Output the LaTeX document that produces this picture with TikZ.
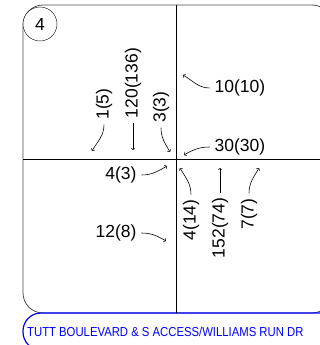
\documentclass[tikz,border=0pt]{standalone}
\usepackage{fontspec}
\setmainfont{Liberation Sans}
\begin{document}
\begin{tikzpicture}[x = 1pt, y = -1pt,
  vol/.style = {font = \fontsize{17.5}{18}\selectfont, inner sep = 1pt, outer sep = 4pt},
  mv/.style = {->, line width = 0.6pt}]
\useasboundingbox (0,0) rectangle (320,345);
\clip (0,0) rectangle (320,345);
% frame and street label
\draw[gray!60!black, line width = 0.8pt, rounded corners = 20pt] (23,5) rectangle (332,313);
\draw[blue, line width = 1.2pt, rounded corners = 18pt] (23,313) rectangle (345,350);
\node[blue, anchor = west, xscale = 0.87, font = \fontsize{13}{13}\selectfont, inner sep = 0pt] at (27,332) (street) {TUTT BOULEVARD \& S ACCESS/WILLIAMS RUN DR};
\draw[line width = 0.7pt] (176,5) -- (176,313);
\draw[line width = 0.7pt] (23,159) -- (332,159);
\node[draw, circle, fill = white, minimum size = 34pt, inner sep = 0pt, font = \fontsize{17.5}{18}\selectfont] at (40,24) (id) {4};
% north approach
\node[vol, rotate = 90] at (104,104) (l1) {1(5)};
\node[vol, rotate = 90] at (133,83) (l2) {120(136)};
\node[vol, rotate = 90] at (161,107) (l3) {3(3)};
\coordinate (t1) at (92,151);
\coordinate (t2) at (133,150);
\coordinate (t3) at (170,152);
\draw[mv] (l1.west) to[out = -90, in = 60] (t1);
\draw[mv] (l2.west) -- (t2);
\draw[mv] (l3.west) to[out = -90, in = 120] (t3);
% east approach
\node[vol] at (240,88) (r1) {10(10)};
\node[vol] at (240,147) (r2) {30(30)};
\coordinate (u1) at (183,75);
\coordinate (u2) at (184,155);
\draw[mv] (r1.west) to[out = 180, in = -30] (u1);
\draw[mv] (r2.west) to[out = 180, in = 30] (u2);
% west approach
\node[vol] at (121,175) (w1) {4(3)};
\node[vol] at (116,233) (w2) {12(8)};
\coordinate (v1) at (167,166);
\coordinate (v2) at (166,241);
\draw[mv] (w1.east) to[out = 0, in = 210] (v1);
\draw[mv] (w2.east) to[out = 0, in = 150] (v2);
% south approach
\node[vol, rotate = 90] at (191,220) (s1) {4(14)};
\node[vol, rotate = 90] at (220,228) (s2) {152(74)};
\node[vol, rotate = 90] at (249,214) (s3) {7(7)};
\coordinate (p1) at (180,168);
\coordinate (p2) at (220,168);
\coordinate (p3) at (259,168);
\draw[mv] (s1.east) to[out = 90, in = -60] (p1);
\draw[mv] (s2.east) -- (p2);
\draw[mv] (s3.east) to[out = 90, in = 240] (p3);
\end{tikzpicture}
\end{document}
